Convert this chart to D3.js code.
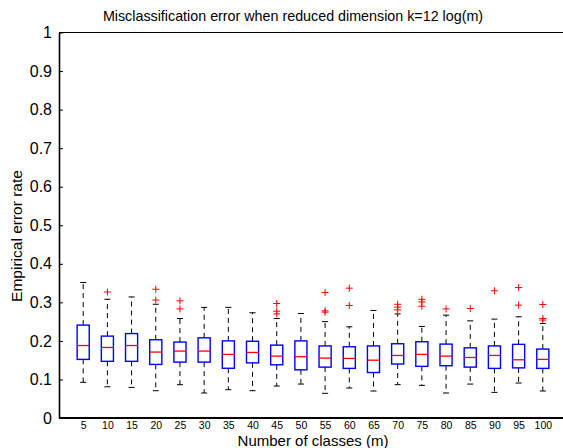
<!DOCTYPE html>
<html><head><meta charset="utf-8">
<script src="https://cdn.jsdelivr.net/npm/d3@7"></script>
<style>body{margin:0;background:#fff}svg{display:block}text{font-family:"Liberation Sans",Arial,sans-serif}</style>
</head><body><svg id="c" width="563" height="448"></svg>
<script>
const categories = [5,10,15,20,25,30,35,40,45,50,55,60,65,70,75,80,85,90,95,100];
const whiskerLow  = [.0925,.081,.0794,.0708,.0864,.0648,.0734,.0708,.0829,.088,.064,.0777,.070,.0864,.0846,.0648,.088,.0665,.0907,.070];
const q1          = [.152,.147,.147,.139,.145,.145,.129,.143,.138,.125,.132,.1287,.118,.140,.134,.1356,.132,.1287,.130,.1287];
const medians     = [.188,.183,.188,.171,.1736,.1736,.165,.170,.1606,.159,.1554,.1546,.150,.1623,.165,.1606,.157,.1623,.151,.152];
const q3          = [.241,.2124,.219,.203,.197,.208,.200,.199,.189,.200,.187,.1848,.187,.1926,.1978,.1917,.182,.187,.191,.1788];
const whiskerHigh = [.3515,.308,.314,.295,.258,.287,.287,.273,.258,.271,.250,.2366,.279,.270,.2375,.2668,.252,.2565,.2625,.245];
const outliers    = [[],[.327],[],[.334,.306],[.304,.283],[],[],[],[.297,.277,.270],[],[.3256,.278,.2746],[.3368,.292],[],[.295,.2876,.2806],[.308,.301,.290],[.283],[.284],[.330],[.3385,.2927],[.2945,.258,.254]];
const yTicks = [0,0.1,0.2,0.3,0.4,0.5,0.6,0.7,0.8,0.9,1];
const title = "Misclassification error when reduced dimension k=12 log(m)";
const xLabel = "Number of classes (m)";
const yLabel = "Empirical error rate";

const svg = d3.select("#c");
const L = 59, R = 567, T = 32.5, B = 418;
const x = d3.scaleLinear().domain([0, categories.length + 1]).range([L, R]);
const y = d3.scaleLinear().domain([0, 1]).range([B, T]);
const bw = x(0.25) - x(0);   // half box width
const cw = x(0.125) - x(0);  // half cap width

svg.append("line").attr("x1", L).attr("x2", 563).attr("y1", T).attr("y2", T).attr("stroke", "#000").attr("stroke-width", 1);

const yAxis = d3.axisLeft(y).tickValues(yTicks).tickSizeInner(-4).tickSizeOuter(0).tickPadding(7).tickFormat(d => d === 0 || d === 1 ? d3.format("d")(d) : d3.format(".1f")(d));
const gy = svg.append("g").attr("transform", `translate(${L},0)`).call(yAxis);
gy.select(".domain").attr("stroke", "#000").attr("stroke-width", 1.6);
gy.selectAll(".tick line").attr("stroke", "#000");
gy.selectAll(".tick text").attr("font-size", 16).attr("fill", "#000");

const xAxis = d3.axisBottom(x).tickValues(categories.map((c, i) => i + 1)).tickSize(0).tickPadding(3.5).tickFormat((d, i) => categories[i]);
const gx = svg.append("g").attr("transform", `translate(0,${B})`).call(xAxis);
gx.select(".domain").attr("stroke", "#000").attr("stroke-width", 2.2).attr("d", `M${L},0H563`);
gx.selectAll(".tick text").attr("font-size", 10.5).attr("fill", "#000");

const g = svg.append("g");
categories.forEach((c, i) => {
  const cx = x(i + 1);
  g.append("line").attr("x1", cx).attr("x2", cx).attr("y1", y(q3[i])).attr("y2", y(whiskerHigh[i]))
    .attr("stroke", "#000").attr("stroke-width", 1).attr("stroke-dasharray", "5,4");
  g.append("line").attr("x1", cx).attr("x2", cx).attr("y1", y(q1[i])).attr("y2", y(whiskerLow[i]))
    .attr("stroke", "#000").attr("stroke-width", 1).attr("stroke-dasharray", "5,4");
  [whiskerHigh[i], whiskerLow[i]].forEach(v => {
    g.append("line").attr("x1", cx - cw).attr("x2", cx + cw).attr("y1", y(v)).attr("y2", y(v))
      .attr("stroke", "#000").attr("stroke-width", 1);
  });
  g.append("rect").attr("x", cx - bw).attr("width", 2 * bw).attr("y", y(q3[i])).attr("height", y(q1[i]) - y(q3[i]))
    .attr("fill", "none").attr("stroke", "#0000ff").attr("stroke-width", 1.4);
  g.append("line").attr("x1", cx - bw).attr("x2", cx + bw).attr("y1", y(medians[i])).attr("y2", y(medians[i]))
    .attr("stroke", "#ff0000").attr("stroke-width", 1.3);
  outliers[i].forEach(v => {
    const oy = y(v);
    g.append("path").attr("d", `M${cx - 3.5},${oy}H${cx + 3.5}M${cx},${oy - 3.5}V${oy + 3.5}`)
      .attr("stroke", "#ff0000").attr("stroke-width", 1).attr("fill", "none");
  });
});

svg.append("text").attr("x", 293).attr("y", 21).attr("text-anchor", "middle").attr("font-size", 14.3).text(title);
svg.append("text").attr("x", 313).attr("y", 445.5).attr("text-anchor", "middle").attr("font-size", 15).text(xLabel);
svg.append("text").attr("transform", "translate(22,236) rotate(-90)").attr("text-anchor", "middle").attr("font-size", 15.5).text(yLabel);
</script></body></html>
